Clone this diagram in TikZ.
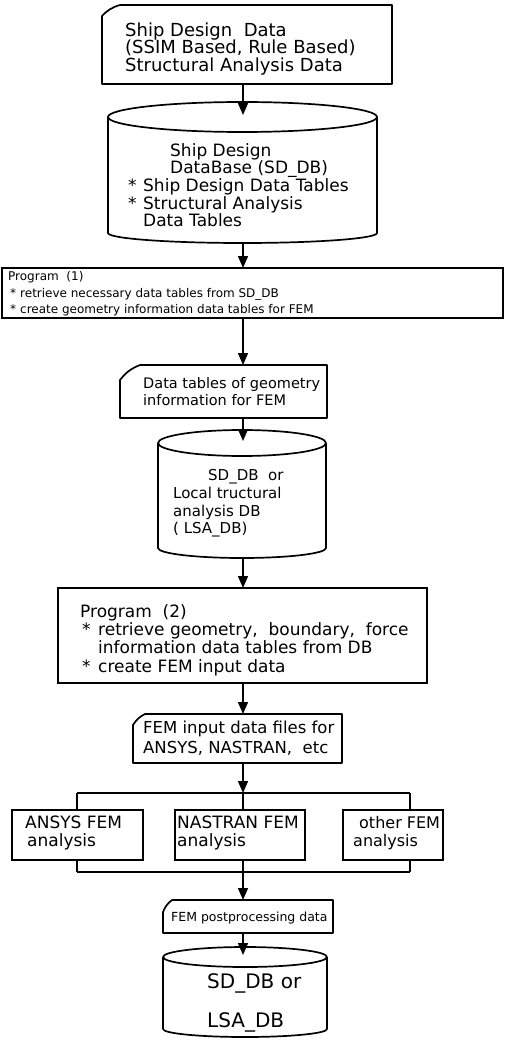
\documentclass[tikz,border=0pt]{standalone}
\usepackage{fontspec}
\setmainfont{DejaVu Sans}
\usetikzlibrary{arrows.meta}
\newcommand{\fs}[1]{\fontsize{#1}{#1}\selectfont}
\tikzset{
  outline/.style={draw=black, line width=1.7pt, line join=round},
  frame/.style={rectangle, draw=none, inner sep=0pt, outer sep=0pt},
  boxframe/.style={frame, draw=black, line width=1.7pt},
  txt/.style={anchor=base west, inner sep=0pt},
  conn/.style={line width=1.5pt, -{Triangle[length=12pt,width=10pt]}},
  plain/.style={line width=1.5pt},
}
\newcommand{\manin}[3]{%
  \draw[outline] ([yshift=-#3]#1.north west) to[bend left=15] ([xshift=#2]#1.north west)
    -- (#1.north east) -- (#1.south east) -- (#1.south west) -- cycle;}
\begin{document}
\begin{tikzpicture}[x=1pt,y=-1pt]
\useasboundingbox (0,0) rectangle (505,1043);

% ---------- top data (manual input) ----------
\node[frame, minimum width=290pt, minimum height=79pt] (top) at (247,44.5) {};
\manin{top}{18pt}{11pt}
\node[txt, font=\fs{18}] (t1) at (125,37) {Ship Design\ \ Data};
\node[txt, font=\fs{18}] (t2) at (125,54) {(SSIM Based, Rule Based)};
\node[txt, font=\fs{18}] (t3) at (125,72) {Structural Analysis Data};

% ---------- cylinder 1 ----------
\draw[outline] (242.5,117) ellipse [x radius=134.5pt, y radius=15pt];
\draw[outline] (108,117) -- (108,233) arc[start angle=180, end angle=360, x radius=134.5pt, y radius=10pt] -- (377,117);
\coordinate (c1in) at (243,115);
\coordinate (c1out) at (243,243);
\node[txt, font=\fs{17}] (c1a) at (170,157) {Ship Design};
\node[txt, font=\fs{17}] (c1b) at (170,174) {DataBase (SD\_DB)};
\node[txt, font=\fs{17}] (c1s1) at (128,192) {*};
\node[txt, font=\fs{17}] (c1c) at (143,192) {Ship Design Data Tables};
\node[txt, font=\fs{17}] (c1s2) at (128,209) {*};
\node[txt, font=\fs{17}] (c1d) at (143,209) {Structural Analysis};
\node[txt, font=\fs{17}] (c1e) at (143,226) {Data Tables};

% ---------- program 1 ----------
\node[boxframe, minimum width=501pt, minimum height=50pt] (p1) at (252.5,293) {};
\node[txt, font=\fs{12}] (p1a) at (8,280) {Program\ \ (1)};
\node[txt, font=\fs{12}] (p1s1) at (10,297) {*};
\node[txt, font=\fs{12}] (p1b) at (20,297) {retrieve necessary data tables from SD\_DB};
\node[txt, font=\fs{12}] (p1s2) at (10,313) {*};
\node[txt, font=\fs{12}] (p1c) at (20,313) {create geometry information data tables for FEM};

% ---------- data tables (manual input) ----------
\node[frame, minimum width=207pt, minimum height=53pt] (dt) at (223.5,391.5) {};
\manin{dt}{20pt}{15pt}
\node[txt, font=\fs{14.5}] (dta) at (143,388) {Data tables of geometry};
\node[txt, font=\fs{14.5}] (dtb) at (143,405) {information for FEM};

% ---------- cylinder 2 ----------
\draw[outline] (242,443) ellipse [x radius=84pt, y radius=13pt];
\draw[outline] (158,443) -- (158,548) arc[start angle=180, end angle=360, x radius=84pt, y radius=10pt] -- (326,443);
\coordinate (c2in) at (243,441);
\coordinate (c2out) at (243,558);
\node[txt, font=\fs{15}] (c2a) at (208,480) {SD\_DB\ \ or};
\node[txt, font=\fs{15}] (c2b) at (173,498) {Local tructural};
\node[txt, font=\fs{15}] (c2c) at (173,516) {analysis DB};
\node[txt, font=\fs{15}] (c2d) at (173,533) {( LSA\_DB)};

% ---------- program 2 ----------
\node[boxframe, minimum width=369pt, minimum height=95pt] (p2) at (242.5,635.5) {};
\node[txt, font=\fs{17}] (p2a) at (80,617) {Program\ \ (2)};
\node[txt, font=\fs{17}] (p2s1) at (82,635) {*};
\node[txt, font=\fs{17}] (p2b) at (98,635) {retrieve geometry,\ \ boundary,\ \ force};
\node[txt, font=\fs{17}] (p2c) at (98,653) {information data tables from DB};
\node[txt, font=\fs{17}] (p2s2) at (82,672) {*};
\node[txt, font=\fs{17}] (p2d) at (98,672) {create FEM input data};

% ---------- FEM input (manual input) ----------
\node[frame, minimum width=209pt, minimum height=49pt] (fi) at (237.5,738.5) {};
\manin{fi}{12pt}{11pt}
\node[txt, font=\fs{16.5}] (fia) at (143,733) {FEM input data files for};
\node[txt, font=\fs{16.5}] (fib) at (143,753) {ANSYS, NASTRAN,\ \ etc};

% ---------- split ----------
\coordinate (split) at (243,793);
\coordinate (sl) at (77,793);
\coordinate (sr) at (410,793);

% ---------- analysis boxes ----------
\node[boxframe, minimum width=131pt, minimum height=50pt] (an) at (77.5,835) {};
\node[boxframe, minimum width=130pt, minimum height=50pt] (na) at (240,835) {};
\node[boxframe, minimum width=100pt, minimum height=50pt] (ot) at (393,835) {};
\node[txt, font=\fs{17}] (ana) at (25,828) {ANSYS FEM};
\node[txt, font=\fs{17}] (anb) at (27,846) {analysis};
\node[txt, font=\fs{17}] (naa) at (177,828) {NASTRAN FEM};
\node[txt, font=\fs{17}] (nab) at (177,846) {analysis};
\node[txt, font=\fs{16}] (ota) at (359,828) {other FEM};
\node[txt, font=\fs{16}] (otb) at (353,846) {analysis};

% ---------- join ----------
\coordinate (join) at (243,872);
\coordinate (jl) at (77,872);
\coordinate (jr) at (410,872);

% ---------- FEM post (manual input) ----------
\node[frame, minimum width=170pt, minimum height=33pt] (fp) at (248,916.5) {};
\manin{fp}{9pt}{12pt}
\node[txt, font=\fs{12.5}] (fpa) at (171,921) {FEM postprocessing data};

% ---------- cylinder 3 ----------
\draw[outline] (245,957) ellipse [x radius=82pt, y radius=10pt];
\draw[outline] (163,957) -- (163,1029) arc[start angle=180, end angle=360, x radius=82pt, y radius=8pt] -- (327,957);
\coordinate (c3in) at (243,955);
\node[txt, font=\fs{20}] (c3a) at (207,988) {SD\_DB or};
\node[txt, font=\fs{20}] (c3b) at (207,1027) {LSA\_DB};

% ---------- connectors ----------
\draw[conn] (c1in |- top.south) -- (c1in);
\draw[conn] (c1out) -- (c1out |- p1.north);
\draw[conn] (c1out |- p1.south) -- (c1out |- dt.north);
\draw[conn] (c2in |- dt.south) -- (c2in);
\draw[conn] (c2out) -- (c2out |- p2.north);
\draw[conn] (c2out |- p2.south) -- (c2out |- fi.north);
\draw[conn] (split |- fi.south) -- (split);
\draw[plain] (sl) -- (sr);
\draw[plain] (sl) -- (sl |- an.north);
\draw[plain] (split) -- (split |- na.north);
\draw[plain] (sr) -- (sr |- ot.north);
\draw[plain] (jl |- an.south) -- (jl);
\draw[plain] (join |- na.south) -- (join);
\draw[plain] (jr |- ot.south) -- (jr);
\draw[plain] (jl) -- (jr);
\draw[conn] (join) -- (join |- fp.north);
\draw[conn] (c3in |- fp.south) -- (c3in);
\end{tikzpicture}
\end{document}
